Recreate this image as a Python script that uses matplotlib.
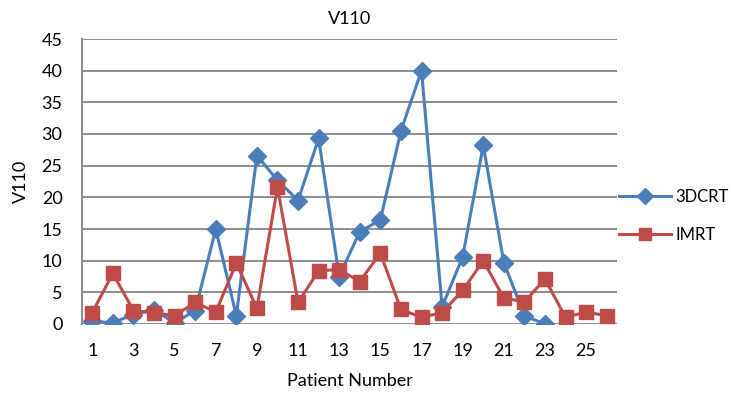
import matplotlib
matplotlib.use("Agg")
import matplotlib.pyplot as plt
import numpy as np

plt.rcParams['font.family'] = ['Lato', 'DejaVu Sans']

patients = list(range(1, 27))
crt3d = [0.4, 0.2, 1.5, 2.2, 0.2, 2.1, 15.0, 1.3, 26.6, 22.7, 19.5, 29.3, 7.5,
         14.6, 16.4, 30.5, 40.0, 2.7, 10.6, 28.2, 9.7, 1.3, 0.0,
         np.nan, np.nan, np.nan]
imrt = [1.8, 8.0, 2.1, 1.8, 1.3, 3.4, 1.9, 9.6, 2.5, 21.6, 3.4, 8.4, 8.6,
        6.7, 11.2, 2.3, 1.05, 1.8, 5.3, 10.0, 4.1, 3.5, 7.1, 1.05, 1.9, 1.3]
xtick_labels = [str(i) for i in range(1, 27, 2)]

FS = 13

fig = plt.figure(figsize=(7.34, 3.94), dpi=100)
ax = fig.add_axes([82/734, 1-324/394, (617-82)/734, (324-39)/394])

blue = '#4A7EBB'
red = '#BE4B48'
ax.plot(patients, crt3d, color=blue, lw=2.2, marker='D', ms=9.5, mec=blue, mfc=blue, label='3DCRT', zorder=3)
ax.plot(patients, imrt, color=red, lw=2.2, marker='s', ms=10.5, mec=red, mfc=red, label='IMRT', zorder=4)

ax.set_xlim(0.5, 26.5)
ax.set_ylim(0, 45)
ax.set_yticks(range(0, 46, 5))
ax.set_xticks(range(1, 27, 2))
ax.set_xticklabels(xtick_labels)
ax.grid(axis='y', color='#8C8C8C', lw=1.4)
ax.set_axisbelow(True)
for s in ['top', 'right', 'bottom']:
    ax.spines[s].set_visible(False)
ax.spines['left'].set_color('#8C8C8C')
ax.spines['left'].set_linewidth(1.4)
ax.tick_params(axis='both', length=0, labelsize=FS, colors='black')
ax.tick_params(axis='y', pad=14)
ax.tick_params(axis='x', pad=14)

ax.set_title('V110', fontsize=FS, pad=11)
ax.set_ylabel('V110', fontsize=FS, labelpad=9)
ax.set_xlabel('Patient Number', fontsize=FS, labelpad=10)

fig.legend(*ax.get_legend_handles_labels(), loc='center left',
           bbox_to_anchor=(619/734, 1-216/394), frameon=False, fontsize=12,
           handlelength=3.1, labelspacing=1.35, handletextpad=0.3,
           borderpad=0, borderaxespad=0, markerscale=0.85)

fig.savefig('out.png', dpi=100)
